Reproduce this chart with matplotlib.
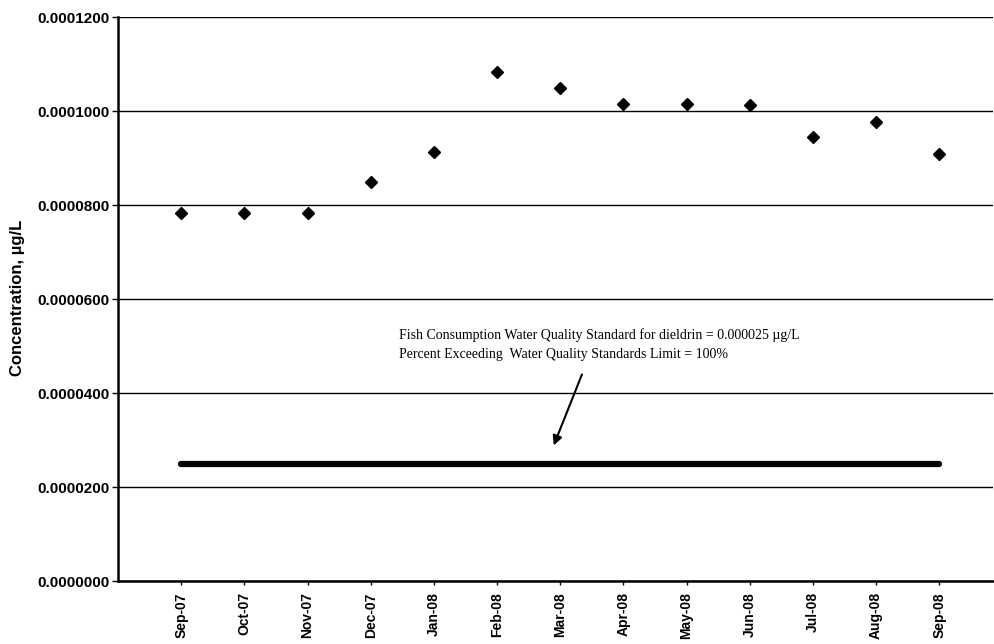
import numpy as np
import matplotlib
matplotlib.use('Agg')
import matplotlib.pyplot as plt
from matplotlib.ticker import FuncFormatter

# Monthly dieldrin concentration (ug/L)
months = ['Sep-07', 'Oct-07', 'Nov-07', 'Dec-07', 'Jan-08', 'Feb-08', 'Mar-08',
          'Apr-08', 'May-08', 'Jun-08', 'Jul-08', 'Aug-08', 'Sep-08']
concentration = [0.0000782, 0.0000782, 0.0000782, 0.0000848, 0.0000913, 0.0001084,
                 0.0001049, 0.0001014, 0.0001014, 0.0001012, 0.0000945, 0.0000977,
                 0.0000909]
standard = 0.000025
yticks = [0.0, 0.00002, 0.00004, 0.00006, 0.00008, 0.0001, 0.00012]
note_lines = ['Fish Consumption Water Quality Standard for dieldrin = 0.000025 \u00b5g/L',
              'Percent Exceeding  Water Quality Standards Limit = 100%']

fig = plt.figure(figsize=(9.95, 6.44), dpi=100)
ax = fig.add_axes([0.1186, 0.0978, 0.8794, 0.8758])

x = np.arange(1, len(months) + 1)

# gridlines
for v in yticks:
    ax.axhline(v, color='black', linewidth=1.0, zorder=1)

# standard line
ax.plot([x[0], x[-1]], [standard, standard], color='black', linewidth=4.5,
        solid_capstyle='round', zorder=2)

# data points
ax.plot(x, concentration, linestyle='none', marker='D', markersize=6,
        color='black', zorder=3)

ax.set_xlim(0, 13.85)
ax.set_ylim(0, 0.00012)
ax.set_yticks(yticks)
ax.yaxis.set_major_formatter(FuncFormatter(lambda v, p: f'{v:.7f}'))
ax.set_xticks(x)
ax.set_xticklabels(months, rotation=90, fontsize=10, fontweight='bold',
                   family='Liberation Sans')
for lab in ax.get_yticklabels():
    lab.set_fontweight('bold')
    lab.set_family('Liberation Sans')
    lab.set_fontsize(11)
ax.tick_params(axis='y', length=4, width=1, pad=2)
ax.tick_params(axis='x', length=3, width=1, pad=5)

for s in ['top', 'right']:
    ax.spines[s].set_visible(False)
ax.spines['left'].set_linewidth(1.8)
ax.spines['bottom'].set_linewidth(1.8)

ax.set_ylabel('Concentration, \u00b5g/L', fontsize=12, fontweight='bold',
              family='Liberation Sans')
ax.yaxis.set_label_coords(-0.106, 0.502)

# annotation
ax.text(4.45, 0.0000523, note_lines[0], fontsize=10, family='Liberation Serif',
        va='center', ha='left')
ax.text(4.45, 0.0000481, note_lines[1], fontsize=10, family='Liberation Serif',
        va='center', ha='left')
ax.annotate('', xy=(6.88, 0.0000283), xytext=(7.36, 0.0000445),
            arrowprops=dict(arrowstyle='-|>', color='black', lw=1.5,
                            mutation_scale=14))

fig.savefig('out.png', dpi=100)
